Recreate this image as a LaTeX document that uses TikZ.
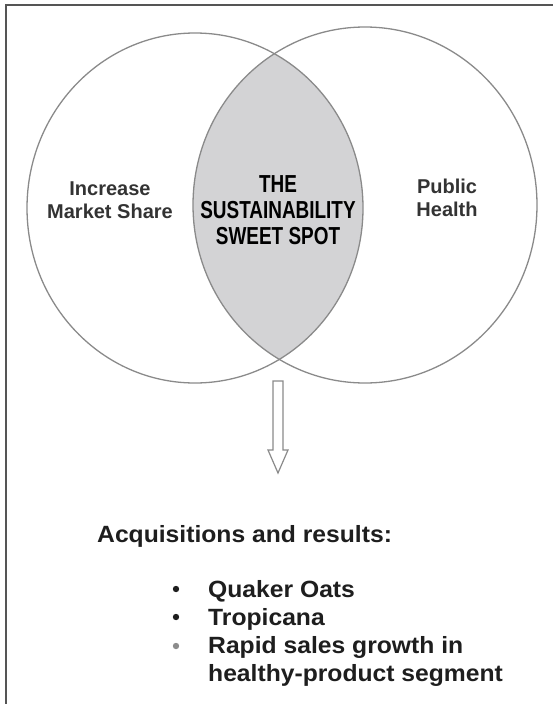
\documentclass[tikz,border=0pt]{standalone}
\usepackage{fontspec}
\setmainfont{Liberation Sans}
\newfontfamily\condfont{Liberation Sans}[FakeStretch=0.77]
\newfontfamily\bodyfont{Liberation Sans}[FakeStretch=1.05]
\definecolor{framegray}{HTML}{555555}
\definecolor{ringgray}{HTML}{8A8A8A}
\definecolor{lensfill}{HTML}{D3D3D5}
\definecolor{labelgray}{HTML}{333333}
\definecolor{inkdark}{HTML}{1E1E1E}
\definecolor{dotlight}{HTML}{8C8C8C}
\begin{document}
\begin{tikzpicture}[x=1pt,y=-1pt,
  frameline/.style={draw=framegray,line width=1.8pt},
  ring/.style={draw=ringgray,line width=1.3pt},
  setlabel/.style={inner sep=0pt,align=center,text=labelgray,
    font=\fontsize{20}{23}\selectfont\bfseries},
  spotlabel/.style={inner sep=0pt,align=center,text=black,
    font=\condfont\bfseries\fontsize{24.6}{26}\selectfont},
  bodytext/.style={inner sep=0pt,align=left,text=inkdark,
    font=\bodyfont\bfseries\fontsize{23.5}{28}\selectfont},
  dot/.style={circle,inner sep=0pt,minimum size=6.4pt,fill=#1},
  blockarrow/.style={draw=ringgray,line width=1.2pt,fill=white,line join=miter}]
\useasboundingbox (0,0) rectangle (553,704);

% open frame: top and left rules only
\draw[frameline] (5,4.8) -- (553,4.8);
\draw[frameline] (6,4) -- (6,704);

% shaded overlap of the two sets
\begin{scope}
  \clip (195,208) ellipse [x radius=168, y radius=175];
  \fill[lensfill] (365,205) ellipse [x radius=172, y radius=178];
\end{scope}

% the two sets
\draw[ring] (195,208) ellipse [x radius=168, y radius=175];
\draw[ring] (365,205) ellipse [x radius=172, y radius=178];

% set labels
\node[setlabel,anchor=north] (market) at (110,182) {Increase\\Market Share};
\node[setlabel,anchor=north] (health) at (447,179) {Public\\Health};
\node[spotlabel,anchor=north] (spot) at (278,175) {THE\\SUSTAINABILITY\\SWEET SPOT};

% hollow down arrow
\draw[blockarrow] (273,381) -- (283,381) -- (283,450) -- (288,450)
  -- (278,473) -- (268,450) -- (273,450) -- cycle;

% outcomes
\node[bodytext,anchor=north west] (acq) at (97,525) {Acquisitions and results:};
\node[bodytext,anchor=north west] (items) at (208,580)
  {Quaker Oats\\Tropicana\\Rapid sales growth in\\healthy-product segment};
\node[dot=inkdark] (d1) at (176,589) {};
\node[dot=inkdark] (d2) at (176,617) {};
\node[dot=dotlight] (d3) at (176,646) {};
\end{tikzpicture}
\end{document}
